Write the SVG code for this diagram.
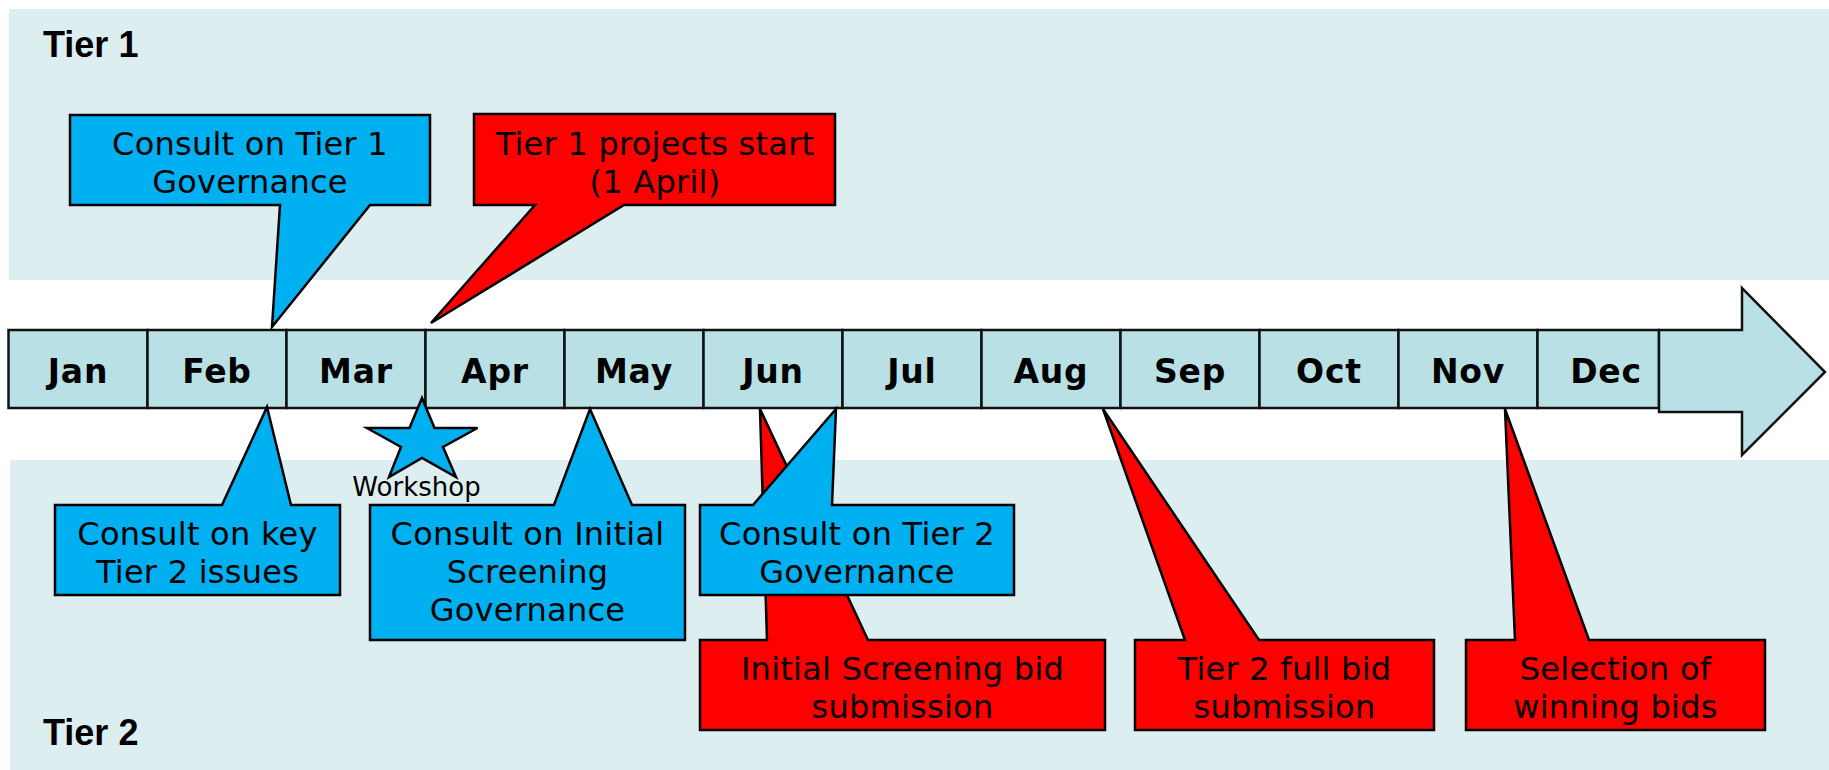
<svg xmlns="http://www.w3.org/2000/svg" width="1829" height="770" viewBox="0 0 1829 770">
<style>
.band{fill:#DDEEF1}
.tier{font-family:"Liberation Sans",Arial,sans-serif;font-weight:bold;font-size:36px;fill:#000}
.cell{fill:#B9E0E4;stroke:#111;stroke-width:2.5}
.mon{font-family:"DejaVu Sans",Verdana,sans-serif;font-weight:bold;font-size:33px;letter-spacing:0.8px;fill:#000;text-anchor:middle}
.blue{fill:#00B0F0;stroke:#000;stroke-width:2.5;stroke-linejoin:miter}
.red{fill:#FF0000;stroke:#000;stroke-width:2.5;stroke-linejoin:miter}
.lbl{font-family:"DejaVu Sans",Verdana,sans-serif;font-size:32px;letter-spacing:0.25px;fill:#000;text-anchor:middle}
.small{font-family:"DejaVu Sans",Verdana,sans-serif;font-size:26px;fill:#000;text-anchor:middle}
</style>
<rect width="1829" height="770" fill="#FFFFFF"/>
<g id="tier1-band">
<rect class="band" x="9" y="9" width="1820" height="271"/>
<text class="tier" x="43" y="57">Tier 1</text>
</g>
<g id="tier2-band">
<rect class="band" x="10" y="460" width="1819" height="310"/>
<text class="tier" x="43" y="745">Tier 2</text>
</g>
<g id="timeline">
<rect class="cell" x="8.5" y="330" width="139" height="78"/>
<rect class="cell" x="147.5" y="330" width="139" height="78"/>
<rect class="cell" x="286.5" y="330" width="139" height="78"/>
<rect class="cell" x="425.5" y="330" width="139" height="78"/>
<rect class="cell" x="564.5" y="330" width="139" height="78"/>
<rect class="cell" x="703.5" y="330" width="139" height="78"/>
<rect class="cell" x="842.5" y="330" width="139" height="78"/>
<rect class="cell" x="981.5" y="330" width="139" height="78"/>
<rect class="cell" x="1120.5" y="330" width="139" height="78"/>
<rect class="cell" x="1259.5" y="330" width="139" height="78"/>
<rect class="cell" x="1398.5" y="330" width="139" height="78"/>
<rect class="cell" x="1537.5" y="330" width="121.5" height="78"/>
<text class="mon" x="78" y="383">Jan</text>
<text class="mon" x="217" y="383">Feb</text>
<text class="mon" x="356" y="383">Mar</text>
<text class="mon" x="495" y="383">Apr</text>
<text class="mon" x="634" y="383">May</text>
<text class="mon" x="773" y="383">Jun</text>
<text class="mon" x="912" y="383">Jul</text>
<text class="mon" x="1051" y="383">Aug</text>
<text class="mon" x="1190" y="383">Sep</text>
<text class="mon" x="1329" y="383">Oct</text>
<text class="mon" x="1468" y="383">Nov</text>
<text class="mon" x="1606" y="383">Dec</text>
<polygon class="cell" points="1659,330 1742,330 1742,288 1825,372 1742,455 1742,412 1659,412"/>
</g>
<g id="connectors"></g>
<g id="consult-tier1-governance">
<path class="blue" d="M70,115 H430 V205 H370 L272,327 L280,205 H70 Z"/>
<text class="lbl" x="250" y="155">Consult on Tier 1</text>
<text class="lbl" x="250" y="193">Governance</text>
</g>
<g id="tier1-projects-start">
<path class="red" d="M474,114 H835 V205 H624 L431,323 L535,205 H474 Z"/>
<text class="lbl" x="655" y="155">Tier 1 projects start</text>
<text class="lbl" x="655" y="193">(1 April)</text>
</g>
<g id="workshop">
<polygon class="blue" stroke-width="2" points="422,398 434.5,428 477.5,428 443,447 456,477 422,458 389,477 401,447 367,428 409.5,428"/>
<text class="small" x="416.5" y="496">Workshop</text>
</g>
<g id="consult-key-tier2">
<path class="blue" d="M55,505 H222 L267,407 L291,505 H340 V595 H55 Z"/>
<text class="lbl" x="197.5" y="545">Consult on key</text>
<text class="lbl" x="197.5" y="583">Tier 2 issues</text>
</g>
<g id="consult-initial-screening">
<path class="blue" d="M370,505 H554 L590,409 L632,505 H685 V640 H370 Z"/>
<text class="lbl" x="527.5" y="545">Consult on Initial</text>
<text class="lbl" x="527.5" y="583">Screening</text>
<text class="lbl" x="527.5" y="621">Governance</text>
</g>
<g id="initial-screening-bid">
<path class="red" d="M700,640 H767 L760,409 L868,640 H1105 V730 H700 Z"/>
<text class="lbl" x="902.5" y="680">Initial Screening bid</text>
<text class="lbl" x="902.5" y="718">submission</text>
</g>
<g id="consult-tier2-governance">
<path class="blue" d="M700,505 H753 L836,409 L832,505 H1014 V595 H700 Z"/>
<text class="lbl" x="857" y="545">Consult on Tier 2</text>
<text class="lbl" x="857" y="583">Governance</text>
</g>
<g id="tier2-full-bid">
<path class="red" d="M1135,640 H1185 L1103,409 L1259,640 H1434 V730 H1135 Z"/>
<text class="lbl" x="1284.5" y="680">Tier 2 full bid</text>
<text class="lbl" x="1284.5" y="718">submission</text>
</g>
<g id="selection-winning-bids">
<path class="red" d="M1466,640 H1515 L1505,409 L1589,640 H1765 V730 H1466 Z"/>
<text class="lbl" x="1615.5" y="680">Selection of</text>
<text class="lbl" x="1615.5" y="718">winning bids</text>
</g>
</svg>
